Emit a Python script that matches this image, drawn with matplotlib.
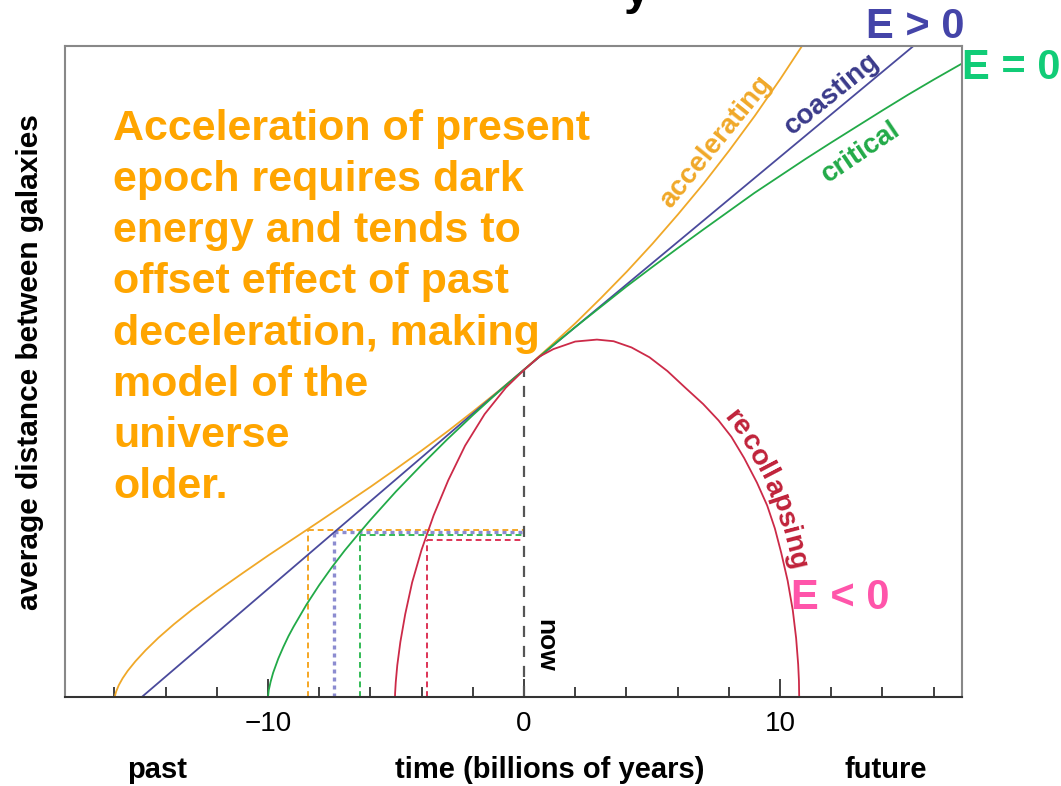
import numpy as np
import matplotlib
matplotlib.use("Agg")
import matplotlib.pyplot as plt

plt.rcParams['font.family'] = ['Liberation Sans', 'DejaVu Sans']

# time in billions of years (0 = now), distance scaled so now = 1
acc_t = [-15.98, -15.97, -15.93, -15.83, -15.68, -15.48, -15.18, -14.78, -14.28, -13.68,
         -12.98, -11.98, -10.98, -9.98, -8.98, -7.98, -6.98, -5.98, -4.98, -3.98, -2.98,
         -1.98, -0.98, 0.0, 1.02, 2.02, 3.02, 4.02, 5.02, 6.02, 7.02, 8.02, 9.02, 10.02, 11.02]
acc_v = [0.0, 0.006, 0.017, 0.036, 0.057, 0.080, 0.109, 0.143, 0.181, 0.222,
         0.266, 0.324, 0.379, 0.433, 0.485, 0.537, 0.590, 0.643, 0.698, 0.754, 0.812,
         0.873, 0.936, 1.0, 1.071, 1.143, 1.220, 1.300, 1.385, 1.475, 1.569, 1.670, 1.776, 1.889, 2.008]

coast_t = [-14.93, 0.0, 15.23]
coast_v = [0.0, 1.0, 1.99]

crit_t = [-10.0, -9.97, -9.9, -9.8, -9.6, -9.4, -9.2, -9.0, -8.5, -8.0, -7.5, -7.0, -6.5,
          -6.0, -5.0, -4.0, -3.0, -2.0, -1.0, 0.0, 1.0, 2.0, 3.0, 4.0, 5.0, 6.0, 7.0, 8.0,
          9.0, 10.0, 11.0, 12.0, 13.0, 14.0, 15.0, 16.0, 17.1]
crit_v = [0.0, 0.021, 0.046, 0.074, 0.117, 0.153, 0.186, 0.215, 0.282, 0.342, 0.397, 0.448,
          0.495, 0.541, 0.628, 0.709, 0.787, 0.861, 0.932, 1.0, 1.066, 1.130, 1.192, 1.254,
          1.313, 1.371, 1.428, 1.484, 1.540, 1.592, 1.644, 1.694, 1.743, 1.792, 1.840,
          1.886, 1.935]

rec_t = [-5.04, -5.035, -5.01, -4.95, -4.83, -4.64, -4.37, -4.0, -3.53, -2.96, -2.30,
         -1.54, -0.71, 0.0, 0.6, 1.15, 2.0, 2.85, 3.5, 4.2, 4.9, 5.6, 6.3, 7.0, 7.6, 8.1,
         8.6, 9.1, 9.5, 9.8, 10.05, 10.3, 10.5, 10.63, 10.71, 10.74, 10.75]
rec_v = [0.0, 0.012, 0.045, 0.097, 0.168, 0.253, 0.350, 0.450, 0.555, 0.662, 0.768,
         0.864, 0.945, 0.999, 1.040, 1.063, 1.086, 1.092, 1.087, 1.068, 1.038, 0.996, 0.945,
         0.895, 0.845, 0.795, 0.730, 0.655, 0.585, 0.515, 0.440, 0.355, 0.265, 0.180, 0.100,
         0.050, 0.0]

# dashed markers: time where distance was about half of today's, and the level drawn
mark_t = [-8.43, -7.42, -6.41, -3.80]
mark_v = [0.511, 0.504, 0.494, 0.479]

c_acc = '#f0a828'
c_coast = '#4a4a9c'
c_crit = '#22aa48'
c_rec = '#cc2a48'
mark_cols = ['#f5a623', '#8c8cd0', '#33bb55', '#dd3355']
mark_styles = [(0, (3, 2)), (0, (1.2, 1.2)), (0, (3, 2)), (0, (3, 2))]
mark_lw = [1.4, 2.4, 1.4, 1.4]


def text_along(ax, xs, ys, text, start_px, offset, **kw):
    # put the letters one by one along a curve (pixel coords, origin bottom left)
    fig = ax.figure
    r = fig.canvas.get_renderer()
    pts = ax.transData.transform(np.column_stack([xs, ys]))
    seg = np.diff(pts, axis=0)
    seglen = np.hypot(seg[:, 0], seg[:, 1])
    s = np.concatenate([[0], np.cumsum(seglen)])
    d = np.hypot(pts[:, 0] - start_px[0], pts[:, 1] - start_px[1])
    pos = s[np.argmin(d)]
    W, H = fig.bbox.width, fig.bbox.height
    for ch in text:
        tmp = fig.text(0, 0, ch, **kw)
        w = tmp.get_window_extent(r).width
        tmp.remove()
        c = pos + w / 2
        i = int(np.clip(np.searchsorted(s, c) - 1, 0, len(seg) - 1))
        f = (c - s[i]) / seglen[i]
        p = pts[i] + f * seg[i]
        ux, uy = seg[i] / seglen[i]
        x, y = p + offset * np.array([-uy, ux])
        ang = np.degrees(np.arctan2(uy, ux))
        fig.text(x / W, y / H, ch, rotation=ang, rotation_mode='anchor',
                 ha='center', va='baseline', **kw)
        pos += w


fig = plt.figure(figsize=(10.61, 7.86), dpi=100)
ax = fig.add_axes([65/1061, 1 - 697/786, (962-65)/1061, (697-46)/786])
ax.set_xlim(-17.93, 17.11)
ax.set_ylim(0, 1.989)

for t, v, c, ls, lw in zip(mark_t, mark_v, mark_cols, mark_styles, mark_lw):
    ax.plot([t, t], [0, v], color=c, ls=ls, lw=lw)
    ax.plot([t, 0], [v, v], color=c, ls=ls, lw=lw)
ax.plot([0, 0], [0, 1.0], color='#555555', ls=(0, (5, 4)), lw=1.6)

ax.plot(acc_t, acc_v, color=c_acc, lw=1.3)
ax.plot(coast_t, coast_v, color=c_coast, lw=1.3)
ax.plot(crit_t, crit_v, color=c_crit, lw=1.3)
ax.plot(rec_t, rec_v, color=c_rec, lw=1.3)

for s in ['left', 'top', 'right']:
    ax.spines[s].set_color('#888888')
    ax.spines[s].set_linewidth(1.5)
ax.spines['bottom'].set_color('#333333')
ax.spines['bottom'].set_linewidth(1.5)

ax.set_yticks([])
ax.set_xticks([-10, 0, 10])
ax.set_xticklabels(['\u221210', '0', '10'])
ax.set_xticks(np.arange(-16, 17, 2), minor=True)
ax.tick_params(axis='x', which='major', direction='in', length=13, width=1.3,
               color='#333333', labelsize=20, pad=10)
ax.tick_params(axis='x', which='minor', direction='in', length=7, width=1.3, color='#333333')

fs = 21
fig.text(157/1061, 1 - 770/786, 'past', ha='center', va='center', fontsize=fs, fontweight='bold')
fig.text(550/1061, 1 - 770/786, 'time (billions of years)', ha='center', va='center',
         fontsize=fs, fontweight='bold')
fig.text(886/1061, 1 - 770/786, 'future', ha='center', va='center', fontsize=fs, fontweight='bold')
fig.text(30/1061, 1 - 362/786, 'average distance between galaxies', ha='center', va='center',
         rotation=90, fontsize=21.5, fontweight='bold')

fig.text(113/1061, 1 - 109/786,
         'Acceleration of present\nepoch requires dark\nenergy and tends to\n'
         'offset effect of past\ndeceleration, making\nmodel of the\nuniverse\nolder.',
         ha='left', va='top', fontsize=31, fontweight='bold', color='#ffa500', linespacing=1.36)

fig.text(716/1061, 1 - 142/786, 'accelerating', rotation=51, ha='center', va='center',
         fontsize=20, fontweight='bold', color=c_acc)
fig.text(832/1061, 1 - 94/786, 'coasting', rotation=39, ha='center', va='center',
         fontsize=20, fontweight='bold', color='#3a3a8a')
fig.text(861/1061, 1 - 152/786, 'critical', rotation=34, ha='center', va='center',
         fontsize=20, fontweight='bold', color=c_crit)
text_along(ax, rec_t[18:], rec_v[18:], 'recollapsing', (720, 786 - 408), 6,
           fontsize=20.5, fontweight='bold', color='#c0223a')
fig.text(545/1061, 1 - 645/786, 'now', rotation=-90, ha='center', va='center',
         fontsize=19, fontweight='bold', color='black')

fig.text(915/1061, 1 - 27/786, 'E > 0', ha='center', va='center', fontsize=30,
         fontweight='bold', color='#4444a8')
fig.text(1011/1061, 1 - 68/786, 'E = 0', ha='center', va='center', fontsize=30,
         fontweight='bold', color='#11cc77')
fig.text(840/1061, 1 - 598/786, 'E < 0', ha='center', va='center', fontsize=30,
         fontweight='bold', color='#ff55aa')

# bottom of a cut-off heading above the chart
fig.text(637/1061, 1 - 4/786, 'y', ha='center', va='baseline', fontsize=34,
         fontweight='bold', color='black')

fig.savefig('out.png', dpi=100)
